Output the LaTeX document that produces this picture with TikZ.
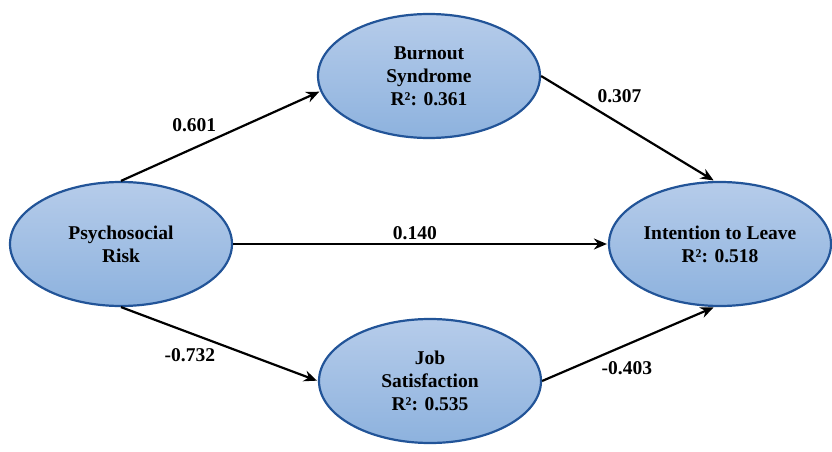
\documentclass[tikz,border=0pt]{standalone}
\usepackage{fontspec}
\setmainfont{Liberation Serif}
\usepackage{tikz}
\usetikzlibrary{arrows.meta,shapes.geometric}

\definecolor{constrtop}{RGB}{182,204,234}
\definecolor{constrbot}{RGB}{141,178,222}
\definecolor{constrline}{RGB}{34,84,152}

\begin{document}
\begin{tikzpicture}[->,>={Stealth[length=13pt,width=11pt]},shorten >=1pt,auto,
  x=1pt,y=-1pt,line width=2.2pt,font=\fontsize{19.5}{23}\selectfont\bfseries]
  \tikzstyle{construct}=[ellipse,draw=constrline,line width=2.2pt,
    top color=constrtop,bottom color=constrbot,minimum width=222pt,
    minimum height=124pt,inner sep=0pt,align=center,text=black]

  \useasboundingbox (0,0) rectangle (832,452);

  \node[construct] (PR) at (121,244) {Psychosocial\\Risk};
  \node[construct] (BS) at (429,76)  {Burnout\\Syndrome\\R²: 0.361};
  \node[construct] (JS) at (430,381) {Job\\Satisfaction\\R²: 0.535};
  \node[construct] (IL) at (720,244) {Intention to Leave\\R²: 0.518};

  \path (PR.north) edge node[pos=0.5]         {0.601}  (BS.188)
        (PR.east)  edge node[pos=0.485]       {0.140}  (IL.west)
        (PR.south) edge node[swap,pos=0.5]    {-0.732} (JS.west)
        (BS.east)  edge node[pos=0.3]         {0.307}  (IL.95)
        (JS.east)  edge node[swap,pos=0.32]   {-0.403} (IL.265)
        ;
\end{tikzpicture}
\end{document}
